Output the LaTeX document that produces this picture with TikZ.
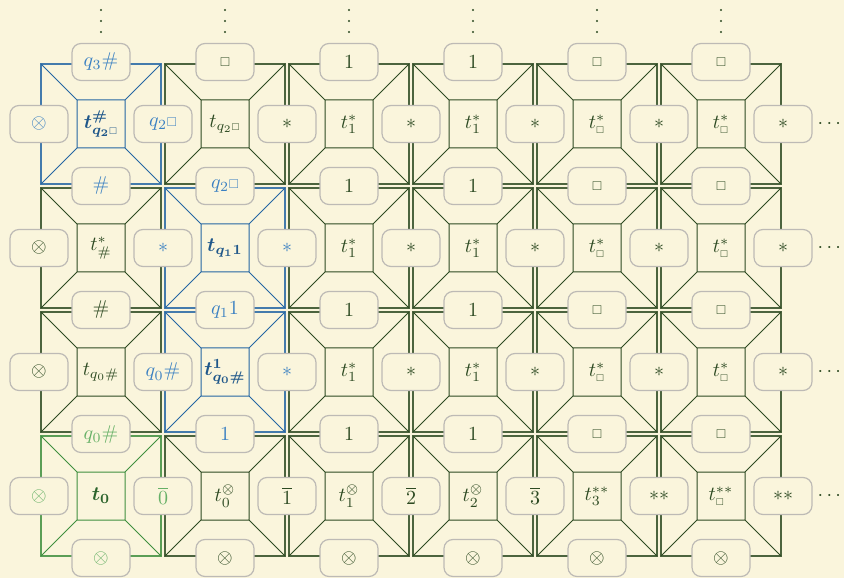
\documentclass[tikz,border=0pt]{standalone}
\usepackage{amsmath,amssymb}
\usepackage{graphicx}
\usepackage{xcolor}
\definecolor{Canvas}{HTML}{FAF5DC}
\definecolor{Moss}{HTML}{2D4A22}
\definecolor{TileBlue}{HTML}{2466A3}
\definecolor{LabBlue}{HTML}{3A80C2}
\definecolor{TileGreen}{HTML}{3F8F3F}
\definecolor{LabGreen}{HTML}{66B066}
\definecolor{Frame}{HTML}{BDBAB5}
\newcommand{\blank}{\text{\scalebox{0.64}{$\square$}}}

\newcommand{\wangtile}[3]{%
  \begin{scope}[shift={(#1,#2)}]
  \draw[#3!85!Canvas,line width=0.75pt] (-60,-60) rectangle (60,60);
  \draw[#3,line width=0.5pt] (-24,-24) rectangle (24,24) (-60,-60)--(-24,-24) (60,-60)--(24,-24) (60,60)--(24,24) (-60,60)--(-24,24);
  \end{scope}}

\begin{document}
\begin{tikzpicture}[x=0.5pt,y=0.5pt,every node/.style={text=Moss},
  lab/.style={draw=Frame,line width=0.6pt,fill=Canvas,rounded corners=4.5pt,minimum width=29pt,minimum height=18.5pt,inner sep=0pt},
  bluelab/.style={lab,text=LabBlue},
  greenlab/.style={lab,text=LabGreen},
  txt/.style={},
  bluetxt/.style={text=TileBlue!85!black,font=\boldmath},
  greentxt/.style={text=TileGreen!70!black,font=\boldmath}]
\useasboundingbox (0,0) rectangle (844,578);
\fill[Canvas] (0,0) rectangle (844,578);
% tiles
\foreach \i/\j in {1/0,2/0,3/0,4/0,5/0,0/1,2/1,3/1,4/1,5/1,0/2,2/2,3/2,4/2,5/2,1/3,2/3,3/3,4/3,5/3}
  \wangtile{101+124*\i}{82+124*\j}{Moss};
\foreach \i/\j in {0/3,1/2,1/1} \wangtile{101+124*\i}{82+124*\j}{TileBlue};
\wangtile{101}{82}{TileGreen};
% side labels
\foreach \s/\t [count=\k from 0] in {bluelab/\otimes,bluelab/q_2\blank,lab/*,lab/*,lab/*,lab/*,lab/*}
  \node[\s] (s\k3) at (39+124*\k,454) {$\t$};
\foreach \s/\t [count=\k from 0] in {lab/\otimes,bluelab/*,bluelab/*,lab/*,lab/*,lab/*,lab/*}
  \node[\s] (s\k2) at (39+124*\k,330) {$\t$};
\foreach \s/\t [count=\k from 0] in {lab/\otimes,bluelab/q_0\#,bluelab/*,lab/*,lab/*,lab/*,lab/*}
  \node[\s] (s\k1) at (39+124*\k,206) {$\t$};
\foreach \s/\t [count=\k from 0] in {greenlab/\otimes,greenlab/\overline{0},lab/\overline{1},lab/\overline{2},lab/\overline{3},lab/**,lab/**}
  \node[\s] (s\k0) at (39+124*\k,82) {$\t$};
% floor labels
\foreach \s/\t [count=\i from 0] in {bluelab/q_3\#,lab/\blank,lab/1,lab/1,lab/\blank,lab/\blank}
  \node[\s] (f\i4) at (101+124*\i,516) {$\t$};
\foreach \s/\t [count=\i from 0] in {bluelab/\#,bluelab/q_2\blank,lab/1,lab/1,lab/\blank,lab/\blank}
  \node[\s] (f\i3) at (101+124*\i,392) {$\t$};
\foreach \s/\t [count=\i from 0] in {lab/\#,bluelab/q_1 1,lab/1,lab/1,lab/\blank,lab/\blank}
  \node[\s] (f\i2) at (101+124*\i,268) {$\t$};
\foreach \s/\t [count=\i from 0] in {greenlab/q_0\#,bluelab/1,lab/1,lab/1,lab/\blank,lab/\blank}
  \node[\s] (f\i1) at (101+124*\i,144) {$\t$};
\foreach \s/\t [count=\i from 0] in {greenlab/\otimes,lab/\otimes,lab/\otimes,lab/\otimes,lab/\otimes,lab/\otimes}
  \node[\s] (f\i0) at (101+124*\i,20) {$\t$};
% tile names
\foreach \s/\t [count=\i from 0] in {bluetxt/{t^{\#}_{q_2\blank}},txt/{t_{q_2\blank}},txt/t_1^*,txt/t_1^*,txt/t_\blank^*,txt/t_\blank^*}
  \node[\s] (t\i3) at (101+124*\i,454) {$\t$};
\foreach \s/\t [count=\i from 0] in {txt/t_{\#}^*,bluetxt/{t_{q_1 1}},txt/t_1^*,txt/t_1^*,txt/t_\blank^*,txt/t_\blank^*}
  \node[\s] (t\i2) at (101+124*\i,330) {$\t$};
\foreach \s/\t [count=\i from 0] in {txt/{t_{q_0\#}},bluetxt/{t^1_{q_0\#}},txt/t_1^*,txt/t_1^*,txt/t_\blank^*,txt/t_\blank^*}
  \node[\s] (t\i1) at (101+124*\i,206) {$\t$};
\foreach \s/\t [count=\i from 0] in {greentxt/t_0,txt/t_0^{\otimes},txt/t_1^{\otimes},txt/t_2^{\otimes},txt/t_3^{**},txt/t_\blank^{**}}
  \node[\s] (t\i0) at (101+124*\i,82) {$\t$};
% continuation dots
\foreach \i in {0,...,5} \foreach \y in {546,557,568} \fill[Moss] (101+124*\i,\y) circle (0.55pt);
\foreach \j in {0,...,3} \node (dots\j) at (831,82+124*\j) {$\cdots$};
\end{tikzpicture}
\end{document}
